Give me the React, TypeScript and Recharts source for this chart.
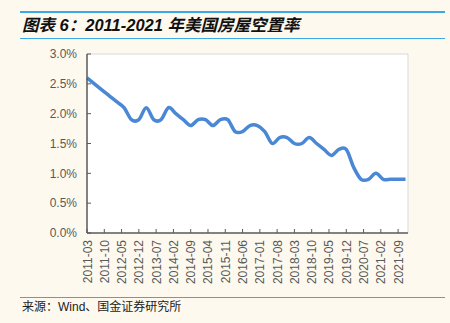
import React from "react";
import { CartesianGrid, Line, LineChart, ReferenceLine, XAxis, YAxis } from "recharts";

// quarterly observations (end month of quarter)
const quarters = [
  "2011-03", "2011-06", "2011-09", "2011-12",
  "2012-03", "2012-06", "2012-09", "2012-12",
  "2013-03", "2013-06", "2013-09", "2013-12",
  "2014-03", "2014-06", "2014-09", "2014-12",
  "2015-03", "2015-06", "2015-09", "2015-12",
  "2016-03", "2016-06", "2016-09", "2016-12",
  "2017-03", "2017-06", "2017-09", "2017-12",
  "2018-03", "2018-06", "2018-09", "2018-12",
  "2019-03", "2019-06", "2019-09", "2019-12",
  "2020-03", "2020-06", "2020-09", "2020-12",
  "2021-03", "2021-06", "2021-09", "2021-12",
];

const vacancyRate = [
  2.6, 2.5, 2.4, 2.3,
  2.2, 2.1, 1.9, 1.9,
  2.1, 1.9, 1.9, 2.1,
  2.0, 1.9, 1.8, 1.9,
  1.9, 1.8, 1.9, 1.9,
  1.7, 1.7, 1.8, 1.8,
  1.7, 1.5, 1.6, 1.6,
  1.5, 1.5, 1.6, 1.5,
  1.4, 1.3, 1.4, 1.4,
  1.1, 0.9, 0.9, 1.0,
  0.9, 0.9, 0.9, 0.9,
];

const xTickLabels = [
  "2011-03", "2011-10", "2012-05", "2012-12", "2013-07", "2014-02", "2014-09",
  "2015-04", "2015-11", "2016-06", "2017-01", "2017-08", "2018-03", "2018-10",
  "2019-05", "2019-12", "2020-07", "2021-02", "2021-09",
];

const yTicks = [0, 0.5, 1.0, 1.5, 2.0, 2.5, 3.0];

// months since 2011-03, used as the x position on a date-like axis
const monthIndex = (s: string) => {
  const [y, m] = s.split("-").map(Number);
  return (y - 2011) * 12 + (m - 3);
};

const data = quarters.map((q, i) => ({ t: monthIndex(q), rate: vacancyRate[i] }));
const xTicks = xTickLabels.map(monthIndex);
const labelByIndex: Record<number, string> = {};
xTickLabels.forEach((l) => (labelByIndex[monthIndex(l)] = l));

const GRAY = "#595959";
const RULE = "#3aa9e6";
const LATIN = '"Liberation Sans", Arial, sans-serif';
const CJK = '"Liberation Sans", Arial, "Noto Sans CJK SC", sans-serif';

// Excel-style smoothed line (Catmull-Rom through the points)
function excelSmooth(context: any) {
  let pts: number[][] = [];
  return {
    areaStart() {},
    areaEnd() {},
    lineStart() {
      pts = [];
    },
    point(x: number, y: number) {
      pts.push([+x, +y]);
    },
    lineEnd() {
      if (!pts.length) return;
      context.moveTo(pts[0][0], pts[0][1]);
      for (let i = 0; i < pts.length - 1; i++) {
        const p0 = pts[i - 1] ?? pts[i];
        const p1 = pts[i];
        const p2 = pts[i + 1];
        const p3 = pts[i + 2] ?? p2;
        context.bezierCurveTo(
          p1[0] + (p2[0] - p0[0]) / 6,
          p1[1] + (p2[1] - p0[1]) / 6,
          p2[0] - (p3[0] - p1[0]) / 6,
          p2[1] - (p3[1] - p1[1]) / 6,
          p2[0],
          p2[1]
        );
      }
    },
  };
}

function RotatedTick(props: any) {
  const { x, y, payload } = props;
  return (
    <text
      x={x + 4.5}
      y={y}
      transform={`rotate(-90 ${x + 4.5} ${y})`}
      textAnchor="end"
      fontSize={12}
      fill={GRAY}
      fontFamily={LATIN}
    >
      {labelByIndex[payload.value]}
    </text>
  );
}

export default function App() {
  return (
    <div
      style={{
        position: "absolute",
        left: 0,
        top: 0,
        width: 450,
        height: 323,
        background: "#fdf9ef",
        overflow: "hidden",
        fontFamily: CJK,
      }}
    >
      <div style={{ position: "absolute", left: 20, top: 11, width: 425, height: 1.5, background: RULE }} />
      <div
        style={{
          position: "absolute",
          left: 22,
          top: 14,
          fontSize: 16.5,
          fontWeight: "bold",
          fontStyle: "italic",
          color: "#111",
          whiteSpace: "nowrap",
          lineHeight: "22px",
        }}
      >
        图表 6：2011-2021 年美国房屋空置率
      </div>
      <div style={{ position: "absolute", left: 20, top: 37.5, width: 425, height: 1.5, background: RULE }} />

      <div style={{ position: "absolute", left: 0, top: 0 }}>
        <LineChart width={450} height={295} data={data} margin={{ top: 54, right: 42, left: 0, bottom: 0 }}>
          <CartesianGrid horizontal={false} vertical={false} fill="#ffffff" />
          <ReferenceLine y={3} stroke="#d9d9d9" strokeWidth={1} />
          <ReferenceLine x={130} stroke="#d9d9d9" strokeWidth={1} />
          <XAxis
            type="number"
            dataKey="t"
            domain={[0, 130]}
            ticks={xTicks}
            interval={0}
            height={62}
            tickSize={-4}
            tickMargin={11}
            axisLine={{ stroke: GRAY, strokeWidth: 1.5 }}
            tickLine={{ stroke: GRAY, strokeWidth: 1 }}
            tick={<RotatedTick />}
          />
          <YAxis
            type="number"
            domain={[0, 3]}
            ticks={yTicks}
            interval={0}
            width={87}
            tickSize={-4}
            tickMargin={14}
            axisLine={{ stroke: GRAY, strokeWidth: 1.5 }}
            tickLine={{ stroke: GRAY, strokeWidth: 1 }}
            tick={{ fontSize: 12, fill: GRAY, fontFamily: LATIN }}
            tickFormatter={(v: number) => `${v.toFixed(1)}%`}
          />
          <Line
            type={excelSmooth as any}
            dataKey="rate"
            stroke="#4a88d6"
            strokeWidth={3.5}
            strokeLinejoin="round"
            dot={false}
            isAnimationActive={false}
          />
        </LineChart>
      </div>

      <div style={{ position: "absolute", left: 20, top: 296.5, width: 425, height: 1.5, background: RULE }} />
      <div
        style={{
          position: "absolute",
          left: 22,
          top: 299,
          fontSize: 12,
          color: "#222",
          whiteSpace: "nowrap",
          lineHeight: "16px",
        }}
      >
        来源：Wind、国金证券研究所
      </div>
    </div>
  );
}
